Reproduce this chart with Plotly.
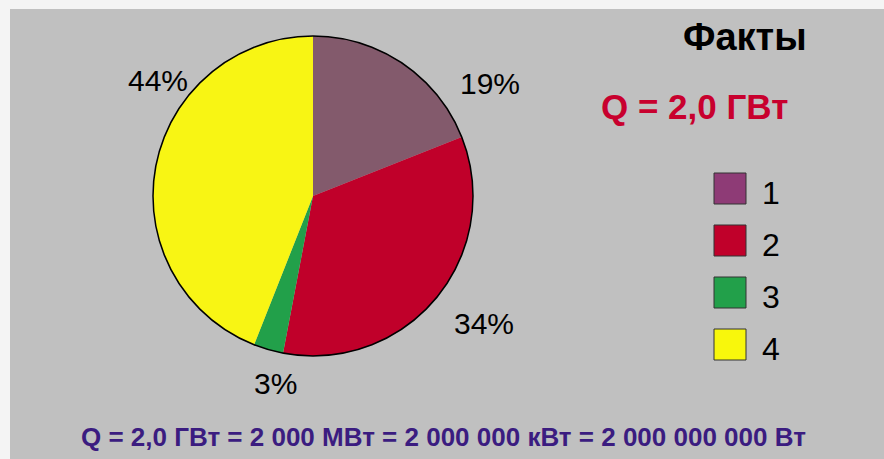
import plotly.graph_objects as go

# ---- data ----
categories = ["1", "2", "3", "4"]
shares = [19, 34, 3, 44]
slice_colors = ["#835a6c", "#c0002a", "#22a04a", "#f8f514"]
legend_colors = ["#8e3b76", "#c0002a", "#22a04a", "#f8f70c"]
title_text = "Факты"
power_text = "Q = 2,0 ГВт"
bottom_text = "Q = 2,0 ГВт = 2 000 МВт = 2 000 000 кВт = 2 000 000 000 Вт"

W, H = 884, 459
FONT = "Liberation Sans, Arial, sans-serif"

def px(x):
    return x / W

def py(y):
    return 1 - y / H

cx, cy, r = 313, 196, 160
dom_x = [px(cx - r), px(cx + r)]
dom_y = [py(cy + r), py(cy - r)]

fig = go.Figure()
fig.add_trace(go.Pie(
    labels=categories, values=shares, sort=False, direction="clockwise",
    rotation=0, marker=dict(colors=slice_colors, line=dict(width=0)),
    textinfo="none", hoverinfo="label+percent", showlegend=False,
    domain=dict(x=dom_x, y=dom_y),
))

shapes = [
    dict(type="rect", xref="paper", yref="paper", x0=px(10), x1=1, y0=0, y1=py(9),
         fillcolor="#c0c0c0", line=dict(width=0), layer="below"),
    dict(type="circle", xref="paper", yref="paper", x0=dom_x[0], x1=dom_x[1],
         y0=dom_y[0], y1=dom_y[1], line=dict(color="black", width=1.5)),
]

# percentage label positions (pixels)
label_pos = [(490, 83), (484, 323), (275, 383), (158, 80)]
annotations = []
for v, (lx, ly) in zip(shares, label_pos):
    annotations.append(dict(x=px(lx), y=py(ly), xref="paper", yref="paper",
                            text=f"{v}%", showarrow=False,
                            font=dict(family=FONT, size=30, color="black"),
                            xanchor="center", yanchor="middle"))

# legend (manual)
for i, (c, col) in enumerate(zip(categories, legend_colors)):
    top = 173 + 52 * i
    shapes.append(dict(type="rect", xref="paper", yref="paper",
                       x0=px(714), x1=px(746), y0=py(top + 31), y1=py(top),
                       fillcolor=col, line=dict(color="#333333", width=1)))
    annotations.append(dict(x=px(760), y=py(top + 20), xref="paper", yref="paper",
                            text=c, showarrow=False, xanchor="left", yanchor="middle",
                            font=dict(family=FONT, size=32, color="black")))

annotations.append(dict(x=px(745), y=py(37), xref="paper", yref="paper", text=f"<b>{title_text}</b>",
                        showarrow=False, xanchor="center", yanchor="middle",
                        font=dict(family=FONT, size=38, color="black")))
annotations.append(dict(x=px(694), y=py(106), xref="paper", yref="paper", text=f"<b>{power_text}</b>",
                        showarrow=False, xanchor="center", yanchor="middle",
                        font=dict(family=FONT, size=35, color="#c8002e")))
annotations.append(dict(x=px(443), y=py(437), xref="paper", yref="paper", text=f"<b>{bottom_text}</b>",
                        showarrow=False, xanchor="center", yanchor="middle",
                        font=dict(family=FONT, size=26, color="#3b1c80")))

fig.update_layout(
    width=W, height=H, margin=dict(l=0, r=0, t=0, b=0),
    paper_bgcolor="#f4f4f4", plot_bgcolor="#c0c0c0",
    shapes=shapes, annotations=annotations, showlegend=False,
)
fig.write_html("out.html", config={"displayModeBar": False},
               post_script="document.body.style.margin='0px';document.body.style.overflow='hidden';")
